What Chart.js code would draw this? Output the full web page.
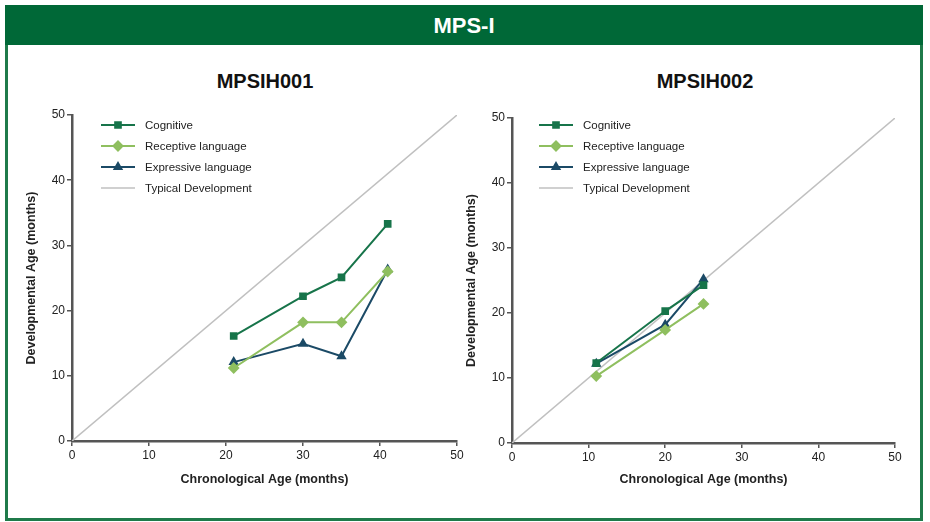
<!DOCTYPE html>
<html>
<head>
<meta charset="utf-8">
<script src="https://cdn.jsdelivr.net/npm/chart.js@4.4.1/dist/chart.umd.min.js"></script>
<style>
  body { margin: 0; background: #fff; font-family: 'Liberation Sans', Arial, sans-serif; }
  #frame { position: absolute; left: 5px; top: 5px; width: 912px; height: 510px; border: 3px solid #1f7a4a; background: #fff; }
  #header { position: absolute; left: 5px; top: 5px; width: 918px; height: 40px; background: #006837; color: #fff;
    font: bold 22px 'Liberation Sans Narrow', 'Liberation Sans', Arial, sans-serif; text-align: center; line-height: 42px; }
  .title { position: absolute; top: 70px; width: 300px; text-align: center; font: bold 20px 'Liberation Sans', Arial, sans-serif; color: #111; }
  .box { position: absolute; top: 100px; width: 450px; height: 400px; }
</style>
</head>
<body>
<div id="frame"></div>
<div id="header">MPS-I</div>
<div class="title" style="left:115px">MPSIH001</div>
<div class="title" style="left:555px">MPSIH002</div>
<div class="box" style="left:20px"><canvas id="chart1"></canvas></div>
<div class="box" style="left:460px"><canvas id="chart2"></canvas></div>
<script>
// MPSIH001 - chronological age (months) and developmental age (months)
const ageA = [21, 30, 35, 41];
const cognitiveA = [16.1, 22.2, 25.1, 33.3];
const receptiveA = [11.2, 18.2, 18.2, 26.0];
const expressiveA = [12.1, 14.9, 13.0, 26.3];

// MPSIH002
const ageB = [11, 20, 25];
const cognitiveB = [12.3, 20.3, 24.3];
const receptiveB = [10.3, 17.4, 21.4];
const expressiveB = [12.2, 18.2, 25.2];

// typical development reference line
const typicalAge = [0, 50];
const axisTicks = [0, 10, 20, 30, 40, 50];

const seriesNames = ['Cognitive', 'Receptive language', 'Expressive language', 'Typical Development'];
const colors = ['#17744a', '#8fbf5f', '#1b4a66', '#c0c0c0'];
const markers = ['rect', 'rectRot', 'triangle', false];

function pts(xs, ys) {
  return xs.map((x, i) => ({ x: x, y: ys[i] }));
}

function makeDatasets(age, cog, rec, exp) {
  const sets = [pts(age, cog), pts(age, rec), pts(age, exp), pts(typicalAge, typicalAge)];
  return sets.map((d, i) => ({
    label: seriesNames[i],
    data: d,
    showLine: true,
    borderColor: colors[i],
    backgroundColor: colors[i],
    borderWidth: i === 3 ? 1.5 : 2,
    pointStyle: markers[i] || 'circle',
    pointRadius: markers[i] ? (i === 1 ? 4.5 : 4) : 0,
    order: i === 3 ? 10 : i
  }));
}

// legend drawn inside the plot, line + marker samples
const innerLegend = {
  id: 'innerLegend',
  afterDraw(chart, args, opts) {
    const c = chart.ctx;
    const area = chart.chartArea;
    c.save();
    chart.data.datasets.forEach((ds, i) => {
      const y = area.top + opts.dy + i * 21;
      const x0 = area.left + opts.dx;
      c.strokeStyle = ds.borderColor;
      c.lineWidth = ds.borderWidth;
      c.beginPath();
      c.moveTo(x0, y);
      c.lineTo(x0 + 34, y);
      c.stroke();
      if (ds.pointRadius > 0) {
        Chart.helpers.drawPoint(c, { pointStyle: ds.pointStyle, radius: ds.pointRadius, borderWidth: 1, rotation: 0 }, x0 + 17, y);
        c.fillStyle = ds.backgroundColor;
        c.fill();
      }
      c.fillStyle = '#222';
      c.font = '11.5px "Liberation Sans", Arial, sans-serif';
      c.textBaseline = 'middle';
      c.fillText(ds.label, x0 + 44, y + 1);
    });
    c.restore();
  }
};

function axis(titleText, horizontal, size) {
  return {
    type: 'linear',
    min: 0, max: 50,
    afterBuildTicks: s => { s.ticks = axisTicks.map(v => ({ value: v })); },
    afterFit: s => { if (horizontal) s.height = size; else s.width = size; },
    grid: { drawOnChartArea: false, drawTicks: true, tickLength: 5, color: '#555', lineWidth: 1.5 },
    border: { color: '#555', width: 2.5 },
    ticks: { color: '#222', font: { size: 12, family: "'Liberation Sans', Arial, sans-serif" }, padding: 2 },
    title: {
      display: true, text: titleText, color: '#222',
      font: { size: 12.5, weight: 'bold', family: "'Liberation Sans', Arial, sans-serif" },
      padding: horizontal ? { top: 4, bottom: 13 } : { top: 4, bottom: 6 }
    }
  };
}

function build(id, datasets, pad, xh, legendPos) {
  return new Chart(document.getElementById(id), {
    type: 'scatter',
    data: { datasets: datasets },
    options: {
      responsive: true,
      maintainAspectRatio: false,
      animation: false,
      layout: { padding: pad },
      plugins: { legend: { display: false }, tooltip: { enabled: false }, innerLegend: legendPos },
      scales: {
        x: axis('Chronological Age (months)', true, xh),
        y: axis('Developmental Age (months)', false, 52)
      }
    },
    plugins: [innerLegend]
  });
}

build('chart1', makeDatasets(ageA, cognitiveA, receptiveA, expressiveA),
  { left: 0, right: 13, top: 15, bottom: 0 }, 59, { dx: 29, dy: 10 });
build('chart2', makeDatasets(ageB, cognitiveB, receptiveB, expressiveB),
  { left: 0, right: 15, top: 18, bottom: 0 }, 57, { dx: 27, dy: 7 });
</script>
</body>
</html>
